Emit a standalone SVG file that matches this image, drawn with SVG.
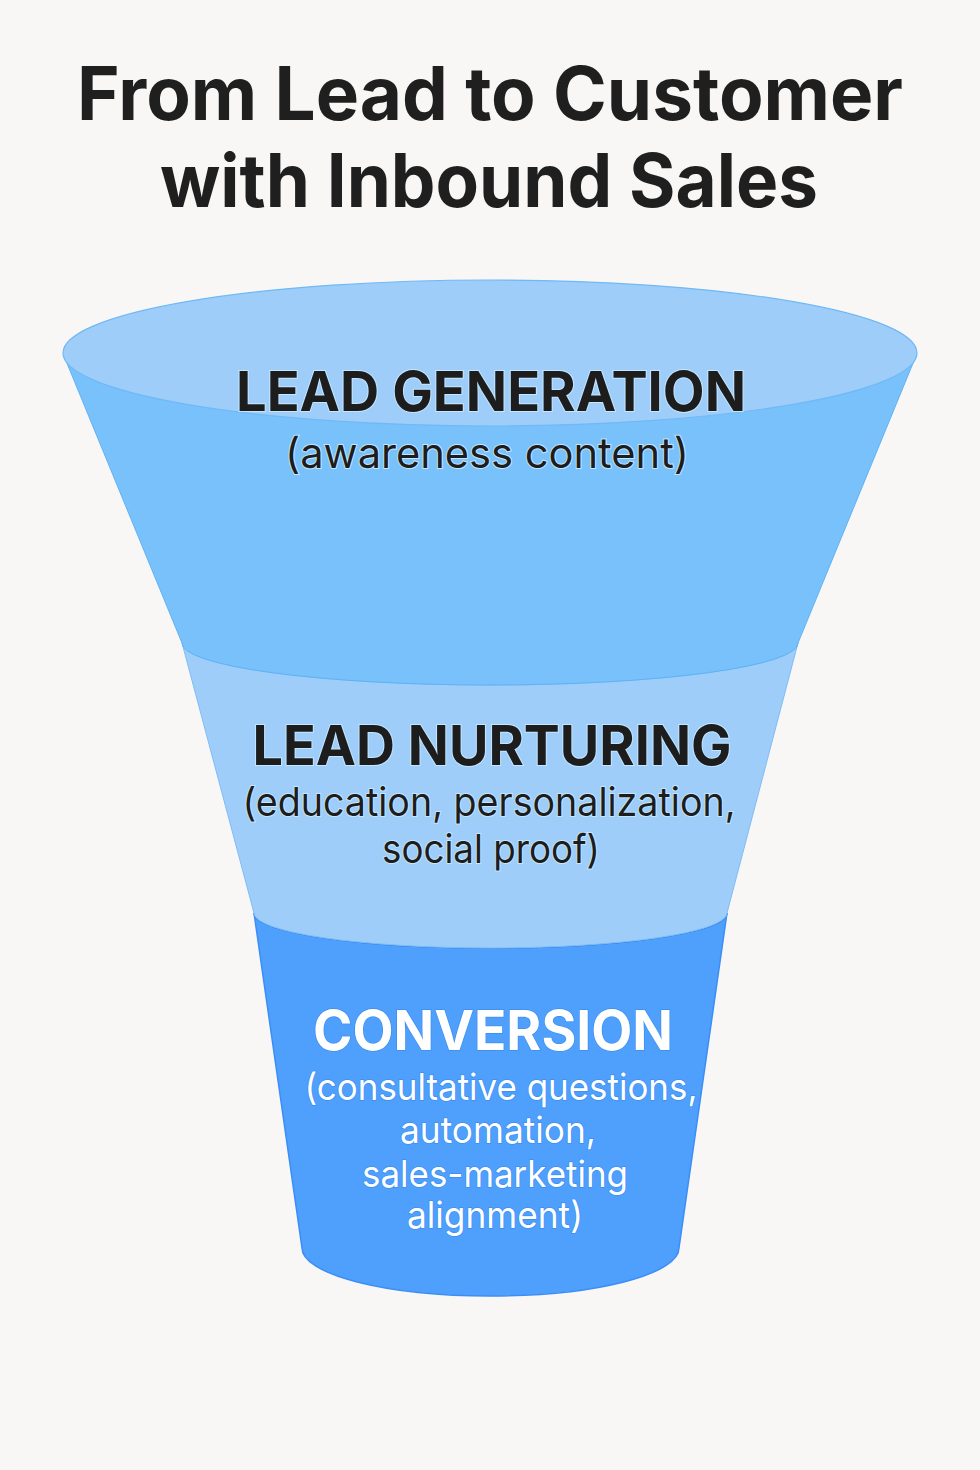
<svg xmlns="http://www.w3.org/2000/svg" width="980" height="1470" viewBox="0 0 980 1470">
  <style>
    .title { font-family: Inter, "Liberation Sans", sans-serif; font-weight: 700; fill: #1f1f1f; text-anchor: middle; }
    .lbl { font-family: Inter, "Liberation Sans", sans-serif; font-weight: 700; text-anchor: middle; paint-order: stroke; }
    .sub { font-family: Inter, "Liberation Sans", sans-serif; font-weight: 400; text-anchor: middle; paint-order: stroke; }
    .dark { fill: #1d1d1d; stroke: #c4e6ff; stroke-width: 2; }
    .light { fill: #ffffff; stroke: #3d8ef0; stroke-width: 1.5; }
  </style>
  <rect x="0" y="0" width="980" height="1470" fill="#f8f7f5"/>

  <g id="title">
    <text class="title" x="490" y="120" font-size="74" textLength="826" lengthAdjust="spacingAndGlyphs">From Lead to Customer</text>
    <text class="title" x="489" y="207" font-size="74" textLength="658" lengthAdjust="spacingAndGlyphs">with Inbound Sales</text>
  </g>

  <g id="stage-conversion">
    <path d="M254,913 L302,1248 A188.5 48 0 0 0 679,1248 L727,913 A236.5 35 0 0 1 254,913 Z" fill="#4fa0fd" stroke="#3a8ef5" stroke-width="1.5"/>
    <path d="M254,913 A236.5 35 0 0 0 727,913" fill="none" stroke="#2f84ee" stroke-width="1.5"/>
    <path d="M256,911 A234.5 35 0 0 0 725,911" fill="none" stroke="#d6ecff" stroke-width="1.2"/>
    <text class="lbl light" x="493" y="1050" font-size="55" textLength="360" lengthAdjust="spacingAndGlyphs">CONVERSION</text>
    <text class="sub light" x="501" y="1100" font-size="37" textLength="393" lengthAdjust="spacingAndGlyphs">(consultative questions,</text>
    <text class="sub light" x="498" y="1143" font-size="37" textLength="196" lengthAdjust="spacingAndGlyphs">automation,</text>
    <text class="sub light" x="495" y="1187" font-size="37" textLength="266" lengthAdjust="spacingAndGlyphs">sales-marketing</text>
    <text class="sub light" x="495" y="1228" font-size="37" textLength="176" lengthAdjust="spacingAndGlyphs">alignment)</text>
  </g>

  <g id="stage-nurturing">
    <path d="M182,643 L254,913 A236.5 35 0 0 0 727,913 L798,643 A308 42 0 0 1 182,643 Z" fill="#9dcdf8" stroke="#7fbdf5" stroke-width="1"/>
    <text class="lbl dark" x="492" y="765" font-size="55" textLength="479" lengthAdjust="spacingAndGlyphs">LEAD NURTURING</text>
    <text class="sub dark" x="489" y="816" font-size="39" textLength="493" lengthAdjust="spacingAndGlyphs">(education, personalization,</text>
    <text class="sub dark" x="491" y="863" font-size="39" textLength="218" lengthAdjust="spacingAndGlyphs">social proof)</text>
  </g>

  <g id="stage-generation">
    <path d="M64,356 L182,643 A308 42 0 0 0 798,643 L916,356 Z" fill="#79c1fb" stroke="#5fb2f6" stroke-width="1"/>
    <ellipse cx="490" cy="353" rx="427" ry="73" fill="#9dcdf8" stroke="#6fb9f6" stroke-width="1.2"/>
    <text class="lbl dark" x="491" y="411" font-size="55" textLength="510" lengthAdjust="spacingAndGlyphs">LEAD GENERATION</text>
    <text class="sub dark" x="487" y="468" font-size="42" textLength="404" lengthAdjust="spacingAndGlyphs">(awareness content)</text>
  </g>

  <g id="connectors"></g>
</svg>
